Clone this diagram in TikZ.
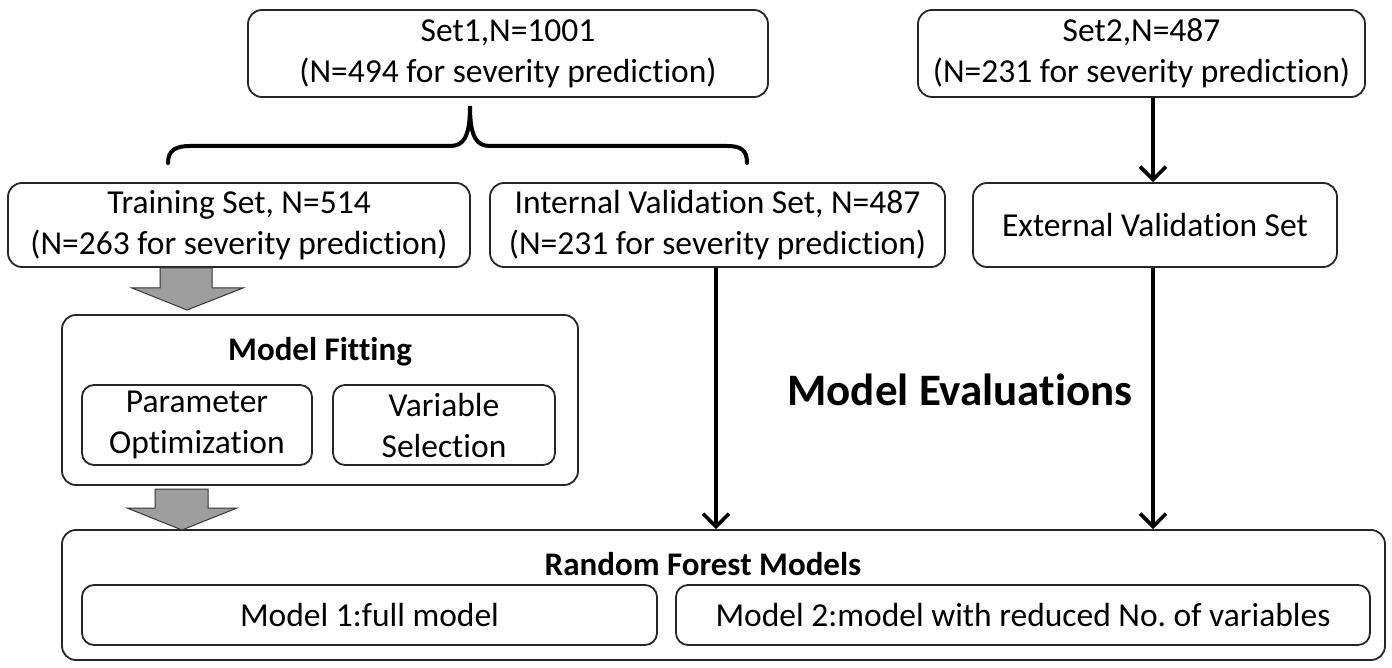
\documentclass[tikz,border=0pt]{standalone}
\usepackage{fontspec}
\setmainfont{Carlito}[Ligatures=NoCommon]
\usetikzlibrary{arrows.meta}
\frenchspacing
\begin{document}
\begin{tikzpicture}[x=1pt,y=-1pt,
  box/.style={draw=black!85, line width=1.8pt, rounded corners=14pt, fill=white,
    font=\fontsize{33.5}{41}\selectfont, align=center, inner sep=0pt},
  ttl/.style={font=\fontsize{33}{38}\selectfont\bfseries},
  big/.style={font=\fontsize{45}{50}\selectfont\bfseries},
  arr/.style={line width=3.6pt, -{Straight Barb[length=13pt,width=26pt,line width=3.6pt]}},
  gray arrow/.style={fill=black!38, draw=black!80, line width=1pt},
  brace/.style={line width=4pt, line cap=round}]
\useasboundingbox (0,0) rectangle (1392,668);
\fill[white] (0,0) rectangle (1392,668);

\node[box, minimum width=520pt, minimum height=87pt] (set1) at (508,53.5)
  {Set1,N=1001\\(N=494 for severity prediction)};
\node[box, minimum width=447pt, minimum height=87pt] (set2) at (1141.5,53.5)
  {Set2,N=487\\(N=231 for severity prediction)};

\node[box, minimum width=462pt, minimum height=84pt] (train) at (239,225)
  {Training Set, N=514\\(N=263 for severity prediction)};
\node[box, minimum width=455pt, minimum height=84pt] (int) at (717.5,225)
  {Internal Validation Set, N=487\\(N=231 for severity prediction)};
\node[box, minimum width=364pt, minimum height=84pt] (ext) at (1155,225)
  {External Validation Set};

% brace
\coordinate (btip) at (470,106);
\draw[brace] (168,163) .. controls (168,150) and (176,146) .. (190,146)
  -- (450,146) .. controls (463,146) and (470,138) .. (btip)
  .. controls (470,138) and (477,146) .. (490,146)
  -- (727,146) .. controls (741,146) and (747,150) .. (747,163);

% model fitting
\node[box, minimum width=516pt, minimum height=170pt] (fit) at (320,400) {};
\node[ttl] (fitt) at (320,352) {Model Fitting};
\node[box, rounded corners=12pt, minimum width=230pt, minimum height=80pt] (par) at (197,425)
  {Parameter\\Optimization};
\node[box, rounded corners=12pt, minimum width=222pt, minimum height=80pt] (var) at (444,425)
  {Variable\\Selection};

% random forest
\node[box, minimum width=1323pt, minimum height=130pt] (rf) at (723.5,595) {};
\node[ttl] (rft) at (703,564) {Random Forest Models};
\node[box, rounded corners=12pt, minimum width=575pt, minimum height=60pt] (m1) at (369.5,615)
  {Model 1:full model};
\node[box, rounded corners=12pt, minimum width=694pt, minimum height=60pt] (m2) at (1023,615)
  {Model 2:model with reduced No.\ of variables};

\node[big] (eval) at (960,390) {Model Evaluations};

% gray block arrows
\draw[gray arrow] (160,268) -- (212,268) -- (212,288) -- (243,288) -- (187,310)
  -- (132,288) -- (160,288) -- cycle;
\draw[gray arrow] (155,489) -- (208,489) -- (208,508) -- (237,508) -- (182,530)
  -- (127,508) -- (155,508) -- cycle;

% black arrows
\coordinate (cx) at (1153,0);
\draw[arr] (set2.south -| cx) -- (ext.north -| cx);
\draw[arr] (ext.south -| cx) -- (rf.north -| cx);
\coordinate (ix) at (716,0);
\draw[arr] (int.south -| ix) -- (rf.north -| ix);
\end{tikzpicture}
\end{document}
